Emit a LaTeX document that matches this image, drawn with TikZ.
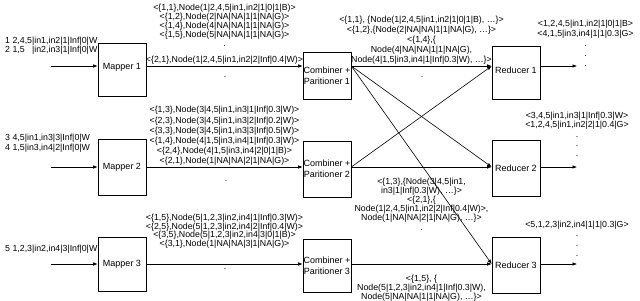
\documentclass[tikz,border=0pt]{standalone}
\usepackage{fontspec}
\setmainfont{Liberation Sans}
\usetikzlibrary{arrows.meta}
\begin{document}
\begin{tikzpicture}[x=1pt,y=-1pt,
  box/.style={draw=black,line width=0.6pt,minimum width=48pt,inner sep=0pt,align=center,font=\fontsize{9}{10.8}\selectfont},
  lbl/.style={inner sep=0pt,align=center,font=\fontsize{8.8}{9.2}\selectfont},
  lbll/.style={inner sep=0pt,align=left,font=\fontsize{8.8}{9.2}\selectfont},
  conn/.style={line width=0.6pt,-{Latex[length=4.5pt,width=3.5pt]}},
]
\useasboundingbox (0,0) rectangle (640,300);
% boxes
\node[box,minimum height=53pt] (M1) at (122,69.5) {\raisebox{7pt}{Mapper 1}};
\node[box,minimum height=56pt] (M2) at (122,167.5) {Mapper 2};
\node[box,minimum height=54pt] (M3) at (122,264.5) {Mapper 3};
\node[box,minimum height=47pt] (C1) at (327,75.5) {Combiner +\\Paritioner 1};
\node[box,minimum height=56pt] (C2) at (327,169) {Combiner +\\Paritioner 2};
\node[box,minimum height=53pt] (C3) at (327,266) {Combiner +\\Paritioner 3};
\node[box,minimum height=53pt] (R1) at (516,73) {\raisebox{5pt}{Reducer 1}};
\node[box,minimum height=56pt] (R2) at (516,168.5) {Reducer 2};
\node[box,minimum height=56pt] (R3) at (516,265) {Reducer 3};
% free ends
\coordinate (i1) at (51,66);
\coordinate (i2) at (51,167);
\coordinate (i3) at (51,264);
\coordinate (o1) at (577,66);
\coordinate (o2) at (577,167);
\coordinate (o3) at (577,264);
% connectors
\draw[conn] (i1) -- (M1.west |- i1);
\draw[conn] (i2) -- (M2.west |- i2);
\draw[conn] (i3) -- (M3.west |- i3);
\draw[conn] (M1.east |- i1) -- (C1.west |- i1);
\draw[conn] (M2.east |- i2) -- (C2.west |- i2);
\draw[conn] (M3.east |- i3) -- (C3.west |- i3);
\draw[conn] (C1.east |- i1) -- (R1.west |- i1);
\draw[conn] (C1.east |- i1) -- (R2.west |- i2);
\draw[conn] (C1.east |- i1) -- (R3.west |- i3);
\draw[conn] (C2.east |- i2) -- (R1.west |- i1);
\draw[conn] (C2.east |- i2) -- (R2.west |- i2);
\draw[conn] (C3.east |- i3) -- (R3.west |- i3);
\draw[conn] (R1.east |- o1) -- (o1);
\draw[conn] (R2.east |- o2) -- (o2);
\draw[conn] (R3.east |- o3) -- (o3);
% inputs
\node[lbll,anchor=north west] (in1) at (5,36.8) {1 2,4,5|in1,in2|1|Inf|0|W\\2 1,5~~~|in2,in3|1|Inf|0|W};
\node[lbll,anchor=north west] (in2) at (5,134.3) {3 4,5|in1,in3|3|Inf|0|W\\4 1,5|in3,in4|2|Inf|0|W};
\node[lbll,anchor=north west] (in3) at (5,244.8) {5 1,2,3|in2,in4|3|Inf|0|W};
% mapper -> combiner labels
\node[lbl,anchor=north] (m1a) at (224.5,3.6) {<\{1,1\},Node(1|2,4,5|in1,in2|1|0|1|B)>\\<\{1,2\},Node(2|NA|NA|1|1|NA|G)>\\<\{1,4\},Node(4|NA|NA|1|1|NA|G)>\\<\{1,5\},Node(5|NA|NA|1|1|NA|G)>\\.};
\node[lbl,anchor=south] (m1b) at (224.5,65) {<\{2,1\},Node(1|2,4,5|in1,in2|2|Inf|0.4|W)>};
\node[lbl,anchor=base] (m1c) at (225,77) {.};
\node[lbl,anchor=south,font=\fontsize{8.8}{10.2}\selectfont] (m2a) at (224.5,166) {<\{1,3\},Node(3|4,5|in1,in3|1|Inf|0.3|W)>\\<\{2,3\},Node(3|4,5|in1,in3|2|Inf|0.2|W)>\\<\{3,3\},Node(3|4,5|in1,in3|3|Inf|0.5|W)>\\<\{1,4\},Node(4|1,5|in3,in4|1|Inf|0.3|W)>\\<\{2,4\},Node(4|1,5|in3,in4|2|0|1|B)>\\<\{2,1\},Node(1|NA|NA|2|1|NA|G)>};
\node[lbl,anchor=base] (m2b) at (226,181) {.};
\node[lbl,anchor=north,font=\fontsize{8.8}{8.9}\selectfont] (m3a) at (224.5,213.6) {<\{1,5\},Node(5|1,2,3|in2,in4|1|Inf|0.3|W)>\\<\{2,5\},Node(5|1,2,3|in2,in4|2|Inf|0.4|W)>\\<\{3,5\},Node(5|1,2,3|in2,in4|3|0|1|B)>\\<\{3,1\},Node(1|NA|NA|3|1|NA|G)>};
\node[lbl,anchor=base] (m3b) at (225,269) {.};
% combiner -> reducer labels
\node[lbl,anchor=south,font=\fontsize{8.8}{10}\selectfont] (c1a) at (421.5,65) {<\{1,1\}, \{Node(1|2,4,5|in1,in2|1|0|1|B), …\}>\\<\{1,2\},\{Node(2|NA|NA|1|1|NA|G), …\}>\\<\{1,4\},\{\\Node(4|NA|NA|1|1|NA|G),\\Node(4|1,5|in3,in4|1|Inf|0.3|W), …\}>};
\node[lbl,anchor=base] (c1b) at (422,77) {.};
\node[lbl,anchor=north] (c2a) at (421.5,177.6) {<\{1,3\},\{Node(3|4,5|in1,\\in3|1|Inf|0.3|W), …\}>\\<\{2,1\},\{\\Node(1|2,4,5|in1,in2|2|Inf|0.4|W)>,\\Node(1|NA|NA|2|1|NA|G), …\}>\\.};
\node[lbl,anchor=north,font=\fontsize{8.8}{9}\selectfont] (c3a) at (421.5,274.6) {<\{1,5\}, \{\\Node(5|1,2,3|in2,in4|1|Inf|0.3|W),\\Node(5|NA|NA|1|1|NA|G), …\}>};
% reducer outputs
\node[lbl,anchor=north,font=\fontsize{8.8}{10}\selectfont] (o1t) at (585.5,19.6) {<1,2,4,5|in1,in2|1|0|1|B>\\<4,1,5|in3,in4|1|1|0.3|G>\\.\\.\\.};
\node[lbl,anchor=north,font=\fontsize{8.8}{9.6}\selectfont] (o2t) at (577,111.6) {<3,4,5|in1,in3|1|Inf|0.3|W>\\<1,2,4,5|in1,in2|2|1|0.4|G>\\.\\.\\.};
\node[lbl,anchor=north,font=\fontsize{8.8}{9.8}\selectfont] (o3t) at (577,220.6) {<5,1,2,3|in2,in4|1|1|0.3|G>\\.\\.\\.};
\end{tikzpicture}
\end{document}
